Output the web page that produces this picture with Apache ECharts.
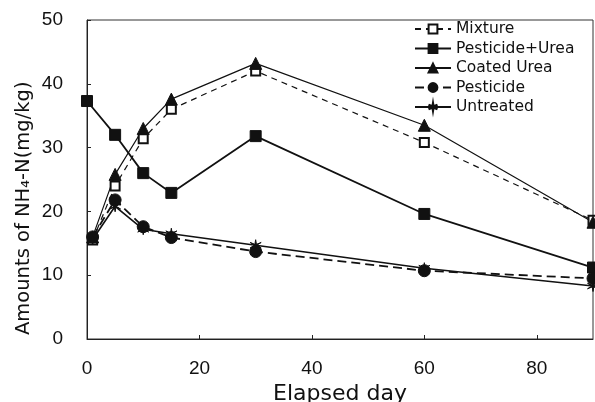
<!DOCTYPE html>
<html>
<head>
<meta charset="utf-8">
<script src="https://cdn.jsdelivr.net/npm/echarts@6/dist/echarts.min.js"></script>
<style>
html,body{margin:0;padding:0;background:#fff;}
#chart{width:595px;height:402px;}
</style>
</head>
<body>
<div id="chart"></div>
<script>
// Data
const days = [1, 5, 10, 15, 30, 60, 90];
const daysPU = [0, 5, 10, 15, 30, 60, 90];
const mixture = [15.5, 24.0, 31.4, 36.0, 42.0, 30.8, 18.6];
const pesticideUrea = [37.3, 32.0, 26.0, 22.9, 31.8, 19.6, 11.2];
const coatedUrea = [16.0, 25.8, 33.0, 37.6, 43.2, 33.5, 18.3];
const pesticide = [16.0, 21.8, 17.6, 15.9, 13.7, 10.7, 9.5];
const untreated = [15.6, 20.8, 17.2, 16.5, 14.7, 11.1, 8.3];
const xTicks = [0, 20, 40, 60, 80];
const yTicks = [0, 10, 20, 30, 40, 50];
const yTitle = 'Amounts of NH\u2084-N(mg/kg)';
const xTitle = 'Elapsed day';

const pair = (xs, ys) => xs.map((x, i) => [x, ys[i]]);
const ink = '#111';
const font = '"Liberation Sans", Arial, sans-serif';
const wide = '"DejaVu Sans", sans-serif';
const star = 'path://M5,0L5.6,4.2L9.3,2.5L5.9,5L9.3,7.5L5.6,5.8L5,10L4.4,5.8L0.7,7.5L4.1,5L0.7,2.5L4.4,4.2Z';

function line(name, data, symbol, size, dash, width) {
  return {
    name, type: 'line', data, symbol, symbolSize: size,
    lineStyle: {color: ink, width: width, type: dash},
    itemStyle: {color: ink, borderColor: ink, borderWidth: symbol === 'emptyRect' ? 1.2 : 1},
    emphasis: {disabled: true}, animation: false
  };
}

const chart = echarts.init(document.getElementById('chart'), null, {renderer: 'canvas'});
chart.setOption({
  backgroundColor: '#fff',
  animation: false,
  graphic: [{
    type: 'text', x: 24, y: 335, rotation: Math.PI / 2, z: 10,
    style: {text: yTitle, fill: ink, fontSize: 19.5, fontFamily: wide, align: 'left', verticalAlign: 'middle'}
  }],
  grid: {left: 87, right: 2, top: 20, bottom: 63, show: true, borderColor: '#333', borderWidth: 1,
    containLabel: false, outerBoundsMode: 'none'},
  legend: {
    left: 409, top: 16, orient: 'vertical', itemWidth: 36, itemHeight: 11, itemGap: 3.5,
    textStyle: {color: ink, fontSize: 15.5, lineHeight: 15, fontFamily: wide},
    data: ['Mixture', 'Pesticide+Urea', 'Coated Urea', 'Pesticide', 'Untreated']
  },
  xAxis: {
    type: 'value', min: 0, max: 90, interval: 20,
    name: xTitle, nameLocation: 'middle', nameGap: 38,
    nameTextStyle: {color: ink, fontSize: 22, fontFamily: wide},
    axisLine: {lineStyle: {color: '#222'}},
    axisTick: {inside: true, length: 4, lineStyle: {color: '#222'}},
    axisLabel: {color: ink, fontSize: 19, fontFamily: font, margin: 20, showMaxLabel: false,
      formatter: v => xTicks.includes(v) ? String(v) : ''},
    splitLine: {show: false}
  },
  yAxis: {
    type: 'value', min: 0, max: 50, interval: 10,
    axisLine: {lineStyle: {color: '#222'}},
    axisTick: {inside: true, length: 4, lineStyle: {color: '#222'}},
    axisLabel: {color: ink, fontSize: 19, fontFamily: font, margin: 24,
      formatter: v => yTicks.includes(v) ? String(v) : ''},
    splitLine: {show: false}
  },
  series: [
    line('Mixture', pair(days, mixture), 'emptyRect', 9, [6, 5], 1.2),
    line('Pesticide+Urea', pair(daysPU, pesticideUrea), 'rect', 11, 'solid', 1.8),
    line('Coated Urea', pair(days, coatedUrea), 'triangle', 12, 'solid', 1.2),
    line('Pesticide', pair(days, pesticide), 'circle', 12, [9, 5], 1.8),
    line('Untreated', pair(days, untreated), star, 11, 'solid', 1.6)
  ]
});
</script>
</body>
</html>
